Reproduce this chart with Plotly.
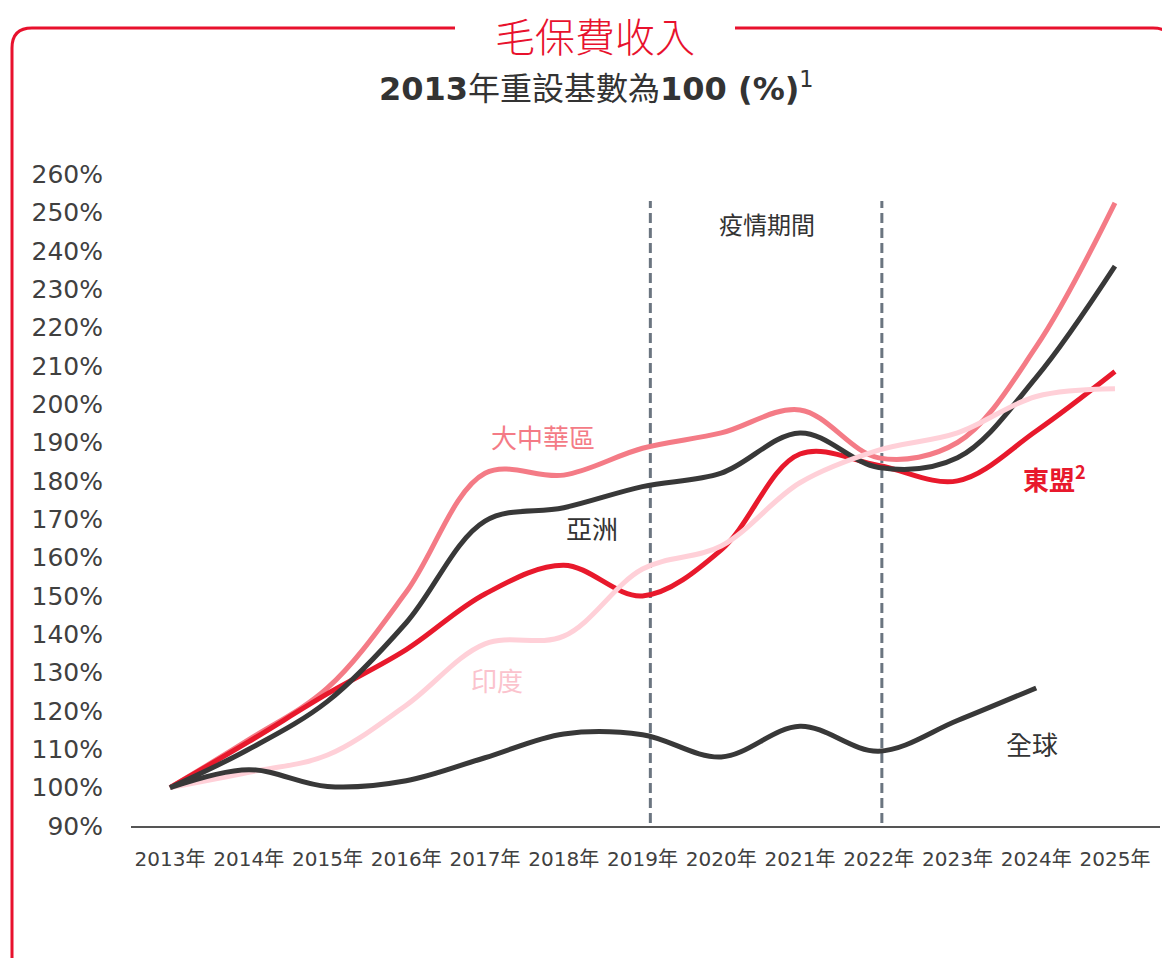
import plotly.graph_objects as go

years = list(range(2013, 2026))
year_labels = [f"{y}年" for y in years]
y_ticks = list(range(90, 261, 10))
y_tick_labels = [f"{v}%" for v in y_ticks]

greater_china = [100, 112.5, 126, 151, 182, 181.5, 188.5, 192.5, 198.5, 186, 190, 215, 252.5]
asia = [100, 110, 122.5, 143, 169.5, 173, 178.5, 182, 192.5, 183.5, 186, 207, 236]
asean = [100, 112, 124.5, 136, 150.5, 158, 150, 162, 187, 184, 180, 193, 208.5]
india = [100, 104, 108.5, 121.5, 137.5, 139.5, 157, 163, 179.5, 188, 192.5, 202, 204]
global_years = list(range(2013, 2025))
global_ = [100, 104.7, 100.3, 101.8, 107.8, 114, 113.8, 108, 116, 109.5, 117.5, 126]

series = [
    ("大中華區", years, greater_china, "#F47B86"),
    ("東盟", years, asean, "#E8192C"),
    ("亞洲", years, asia, "#383838"),
    ("印度", years, india, "#FFD0D8"),
    ("全球", global_years, global_, "#383838"),
]

PANDEMIC_START = 2019.1
PANDEMIC_END = 2022.04

# page body has an 8px margin, so the figure is sized/offset accordingly
OFF = 8
W, H = 1170 - OFF, 958 - OFF
L, R, T, B = 131 - OFF, 10, 166 - OFF, 958 - 826
PW, PH = W - L - R, H - T - B

def px(x):  # page pixel -> paper x
    return (x - OFF - L) / PW

def py(y):  # page pixel -> paper y
    return (H - B - (y - OFF)) / PH

fig = go.Figure()
for name, xs, ys, col in series:
    fig.add_trace(go.Scatter(
        x=xs, y=ys, mode="lines", name=name,
        line=dict(color=col, width=5, shape="spline", smoothing=1.0),
        hoverinfo="skip", showlegend=False,
    ))

for xv in (PANDEMIC_START, PANDEMIC_END):
    fig.add_shape(type="line", xref="x", yref="y", x0=xv, x1=xv, y0=90.8, y1=253,
                  line=dict(color="#6B7580", width=3, dash="10px,5px"), layer="below")

red = "#E8112D"
yt = py(28)
xl = px(12)
xr = px(1173)
ry = 20 / PH
left_path = f"M {px(455)},{yt} L {px(32)},{yt} Q {xl},{yt} {xl},{yt-ry} L {xl},{py(990)}"
right_path = f"M {px(735)},{yt} L {px(1153)},{yt} Q {xr},{yt} {xr},{yt-ry} L {xr},{py(990)}"
for p in (left_path, right_path):
    fig.add_shape(type="path", xref="paper", yref="paper", path=p,
                  line=dict(color=red, width=3))

cjk = "Noto Sans CJK TC, Noto Sans CJK SC, sans-serif"
ann = [
    dict(x=px(595), y=py(35), xref="paper", yref="paper", text="毛保費收入",
         font=dict(family=cjk, size=40, color=red, weight=300)),
    dict(x=px(596), y=py(87), xref="paper", yref="paper",
         text="<b>2013</b>年重設基數為<b>100 (%)</b><sup>1</sup>",
         font=dict(family="DejaVu Sans, Noto Sans CJK TC, sans-serif", size=32, color="#333333")),
    dict(x=2017.74, y=191.5, text="大中華區", font=dict(family=cjk, size=26, color="#F47B86")),
    dict(x=2018.36, y=167.8, text="亞洲", font=dict(family=cjk, size=26, color="#333333")),
    dict(x=2017.15, y=128.2, text="印度", font=dict(family=cjk, size=26, color="#FBC3CD")),
    dict(x=2024.23, y=180.8, text="<b>東盟<sup>2</sup></b>", font=dict(family=cjk, size=26, color="#E8192C")),
    dict(x=2023.95, y=111.5, text="全球", font=dict(family=cjk, size=26, color="#333333")),
    dict(x=2020.58, y=247, text="疫情期間", font=dict(family=cjk, size=24, color="#333333")),
]
for a in ann:
    a.setdefault("xref", "x")
    a.setdefault("yref", "y")
    fig.add_annotation(showarrow=False, xanchor="center", yanchor="middle", **a)

fig.update_layout(
    width=W, height=H,
    margin=dict(l=L, r=R, t=T, b=B),
    paper_bgcolor="white", plot_bgcolor="white",
    xaxis=dict(
        range=[2012.505, 2025.572], tickmode="array", tickvals=years, ticktext=year_labels,
        showgrid=False, zeroline=False, showline=True, linecolor="#555555", linewidth=2,
        ticks="", ticklabelstandoff=14,
        tickfont=dict(family="DejaVu Sans, Noto Sans CJK TC, sans-serif", size=20, color="#404040"),
    ),
    yaxis=dict(
        range=[90, 262.1], tickmode="array", tickvals=y_ticks, ticktext=y_tick_labels,
        showgrid=False, zeroline=False, showline=False, ticks="", ticklabelstandoff=27,
        tickfont=dict(family="DejaVu Sans, sans-serif", size=25, color="#404040"),
    ),
)

fig.write_html("out.html")
